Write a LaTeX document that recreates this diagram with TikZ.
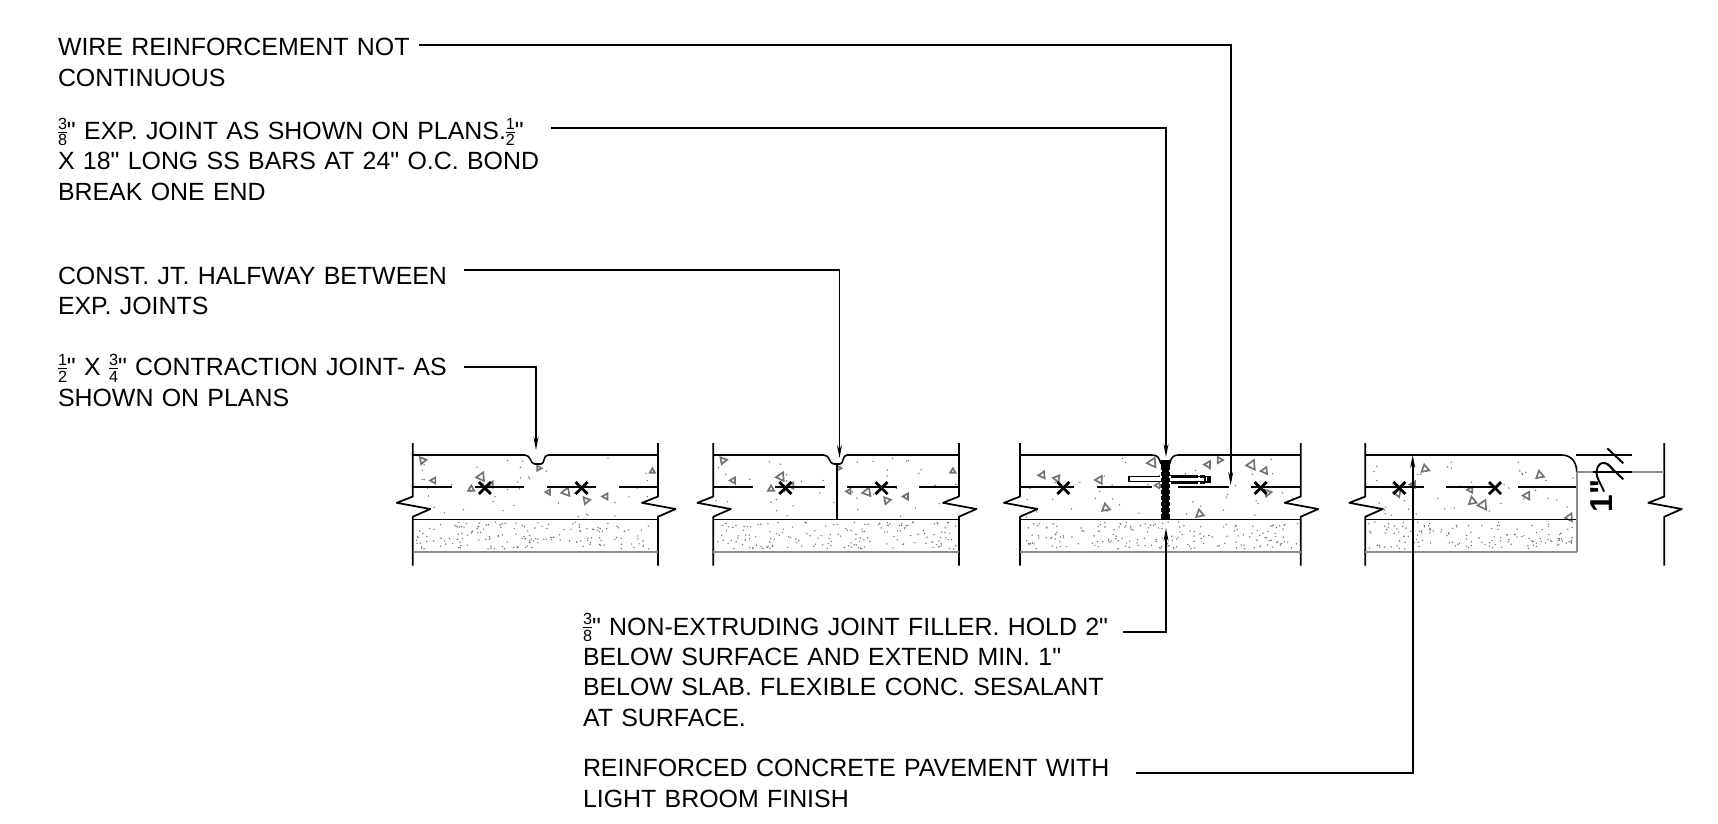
\documentclass[tikz,border=0pt]{standalone}
\usepackage{fontspec}
\setmainfont{Liberation Sans}[Ligatures=TeXOff]
\usetikzlibrary{arrows.meta}
\setlength{\lineskiplimit}{-20pt}
\definecolor{aggrgray}{gray}{0.45}
\definecolor{basegray}{gray}{0.55}
\tikzstyle{note} = [anchor=base west,inner sep=0pt,outer sep=0pt,align=left,font=\fontsize{7.085}{8.65}\selectfont]
\tikzstyle{leader} = [line width=0.45pt,-{Stealth[length=3.7pt,width=1.4pt]}]
\tikzstyle{wall} = [line width=0.5pt,line join=round]
\tikzstyle{rebar} = [line width=0.62pt]
\tikzstyle{cross} = [line width=0.8pt]
\tikzstyle{edge} = [line width=0.45pt]
\tikzstyle{base} = [line width=0.55pt,draw=basegray]
\tikzstyle{aggr} = [line width=0.48pt,draw=aggrgray]
\newcommand{\frc}[2]{\raisebox{-1.9pt}{\vbox{\offinterlineskip\fontsize{4.6}{4.6}\selectfont\hbox{#1}\kern0.6pt\hrule height 0.3pt\kern0.6pt\hbox{#2}}}}
\newcommand{\stipple}[5]{\foreach \i in {1,...,#5}{
  \pgfmathsetmacro{\px}{#1+rnd*(#2-#1)}
  \pgfmathsetmacro{\py}{#3+rnd*(#4-#3)}
  \fill[aggrgray] (\px,\py) circle (0.8);
}}
\begin{document}
\begin{tikzpicture}[x=0.01cm,y=-0.01cm]
\useasboundingbox (0,0) rectangle (1718,823);
\pgfmathsetseed{41}

\node[note,text width=3.61cm] (wirenote) at (58,55.7) {WIRE REINFORCEMENT NOT\\CONTINUOUS};
\node[note,text width=4.93cm] (expnote) at (58,139.3) {\frc{3}{8}" EXP. JOINT AS SHOWN ON PLANS.\frc{1}{2}"\\X 18" LONG SS BARS AT 24" O.C. BOND\\BREAK ONE END};
\node[note,text width=4.06cm] (constnote) at (58,284.3) {CONST. JT. HALFWAY BETWEEN\\EXP. JOINTS};
\node[note,text width=4.06cm] (contrnote) at (58,375.7) {\frc{1}{2}" X \frc{3}{4}" CONTRACTION JOINT- AS\\SHOWN ON PLANS};
\node[note,text width=5.40cm] (fillernote) at (583,635) {\frc{3}{8}" NON-EXTRUDING JOINT FILLER. HOLD 2"\\BELOW SURFACE AND EXTEND MIN. 1"\\BELOW SLAB. FLEXIBLE CONC. SESALANT\\AT SURFACE.};
\node[note,text width=5.53cm] (pavenote) at (583,776.7) {REINFORCED CONCRETE PAVEMENT WITH\\LIGHT BROOM FINISH};

\stipple{415}{656}{458}{517}{45}
\stipple{415}{656}{522}{549}{165}
\stipple{716}{956}{458}{517}{45}
\stipple{716}{956}{522}{549}{165}
\stipple{1023}{1298}{458}{517}{45}
\stipple{1023}{1298}{522}{549}{185}
\stipple{1368}{1574}{458}{517}{40}
\stipple{1368}{1574}{522}{549}{140}

\foreach \ax/\ay/\ar/\as in {422.7/458.3/20/4,435.4/480/90/3.5,483.6/476/85/5,471.7/490.7/180/3.5,492.7/484/90/3.5,539/466.7/30/3,550/491.7/90/3,568.6/491/80/5,586.4/498.3/20/4,607.4/496/90/3.5,652.8/472.7/180/3,
723.2/458.3/20/4,735/480/90/3.5,783.3/476/85/5,771.5/490.7/180/3.5,793.2/485/90/3.5,838.7/466.7/30/3,850.5/491/90/3,869.5/491/80/5,887/498.3/20/4,907.9/496/90/3.5,953.3/472.7/180/3,
1155/461.7/85/5.5,1044.3/474.3/85/4,1059/478.3/100/4,1101.7/479.3/90/4.5,1160/485/90/3.5,1106.7/510/170/4.5,1210/464/90/4,1220/458.3/30/3.5,1254.3/464/85/5.5,1266.7/470/85/4,1267.7/490.7/20/4,1200.7/516/170/4.5,
1426/471/170/4.5,1415/484/90/3.5,1400/492.7/100/4.5,1472.3/489.3/90/3.5,1473.3/503.3/170/4.5,1485.7/504/85/5.5,1540.7/477.3/170/4.5,1529.3/495/90/4.5,1571.7/516.7/85/4.5}{
  \draw[aggr] (\ax,\ay) ++(\ar:\as) -- ++(\ar+120:1.732*\as) -- ++(\ar+240:1.732*\as) -- cycle;
}

\foreach \wx in {412.8,658,713.3,958.9,1020,1300.7,1365.3,1664.3}{
  \draw[wall] (\wx,443) -- (\wx,496.5) -- ++(-16,6.3) -- ++(33.5,6.2) -- (\wx,516.7) -- (\wx,565.7);
}

\foreach \ra/\rb in {412.8/452.4,474.9/524.3,546.9/596.3,618.8/658,713.3/752.9,775.4/824.8,847.4/896.8,919.3/958.9,1020/1074.3,1096.7/1152.3,1178.3/1228.7,1250.7/1300.7,1365.3/1424,1446/1495,1518.3/1577.3}{
  \draw[rebar] (\ra,487.3) -- (\rb,487.3);
}
\foreach \cx in {484.8,581.7,785.3,881.5,1063.3,1260.7,1399.3,1495}{
  \draw[cross] (\cx,488) ++(-6,-6) -- ++(12,12) ++(-12,0) -- ++(12,-12);
}

\draw[edge] (412.8,455) -- (525,455) .. controls (531,455) and (530,464) .. (535,464) -- (541,464) .. controls (545,464) and (543,455) .. (548,455) -- (658,455);
\draw[edge] (713.3,455) -- (824,455) .. controls (830,455) and (829,464) .. (834,464) -- (840,464) .. controls (844,464) and (842,455) .. (847,455) -- (958.9,455);
\draw[edge] (1020,455) -- (1152,455) .. controls (1158,455) and (1159,458) .. (1161,464);
\draw[edge] (1169.5,464) .. controls (1171,458) and (1173,455) .. (1178,455) -- (1300.7,455);
\draw[edge] (1365.3,455) -- (1561.7,455) .. controls (1571,455) and (1576.7,462) .. (1576.7,471.7);
\draw[line width=0.5pt] (836.7,464) -- (836.7,519.3);

\foreach \sa/\sb in {412.8/658,713.3/958.9,1020/1300.7,1365.3/1576.7}{
  \draw[base] (\sa,551.7) -- (\sb,551.7);
  \draw[edge] (\sa,519.3) -- (\sb,519.3);
}
\draw[base] (1576.7,471.7) -- (1576.7,551.7);
\draw[base] (1576.7,471.7) -- (1664.3,471.7);

\draw[line width=0.35pt,fill=white] (1129,476.7) rectangle (1208,481.7);
\draw[line width=0.5pt] (1205,476.5) rectangle (1210,482);
\draw[line width=0.75pt,dash pattern=on 8pt off 0.6pt] (1170,476.2) -- (1205,476.2);
\draw[line width=0.75pt,dash pattern=on 8pt off 0.6pt] (1170,482.2) -- (1205,482.2);
\fill (1160.7,459.5) rectangle (1170,519.3);
\foreach \ny in {471,477,483,489,495,501,507,513}{
  \draw[white,line width=0.3pt] (1160.2,\ny) -- (1161.8,\ny) (1168.9,\ny) -- (1170.5,\ny);
}

\draw[edge] (1576,455) -- (1631.7,455);
\draw[edge] (1593,471.7) -- (1631.7,471.7);
\draw[line width=0.55pt] (1607.3,448.3) -- (1623.3,463.3);
\draw[line width=0.55pt] (1607.3,464) -- (1623.3,479.3);
\draw[line width=0.55pt] (1604,491.7) .. controls (1601,483) and (1596,479) .. (1596.7,471) .. controls (1597.5,462) and (1606,459) .. (1613.3,470);
\node[rotate=90,anchor=base west,inner sep=0pt,font=\fontsize{9}{9}\bfseries\selectfont] (dimtext) at (1612.7,513) {1"};

\coordinate (wirebend) at (1230.7,45);
\coordinate (wiretip) at (1230.7,485);
\coordinate (expbend) at (1166,127.7);
\coordinate (exptip) at (1166,457);
\coordinate (constbend) at (839.5,270);
\coordinate (consttip) at (839.5,458);
\coordinate (contrbend) at (536,367);
\coordinate (contrtip) at (536,450);
\coordinate (fillerbend) at (1166,631.7);
\coordinate (fillertip) at (1166,528);
\coordinate (pavebend) at (1412.7,773);
\coordinate (pavetip) at (1412.7,455);

\draw[leader] (wirenote.east |- wirebend) -- (wirebend) -- (wiretip);
\draw[leader] (expnote.east |- expbend) -- (expbend) -- (exptip);
\draw[leader] (constnote.east |- constbend) -- (constbend) -- (consttip);
\draw[leader] (contrnote.east |- contrbend) -- (contrbend) -- (contrtip);
\draw[leader] (fillernote.east |- fillerbend) -- (fillerbend) -- (fillertip);
\draw[leader] (pavenote.east |- pavebend) -- (pavebend) -- (pavetip);
\end{tikzpicture}
\end{document}
